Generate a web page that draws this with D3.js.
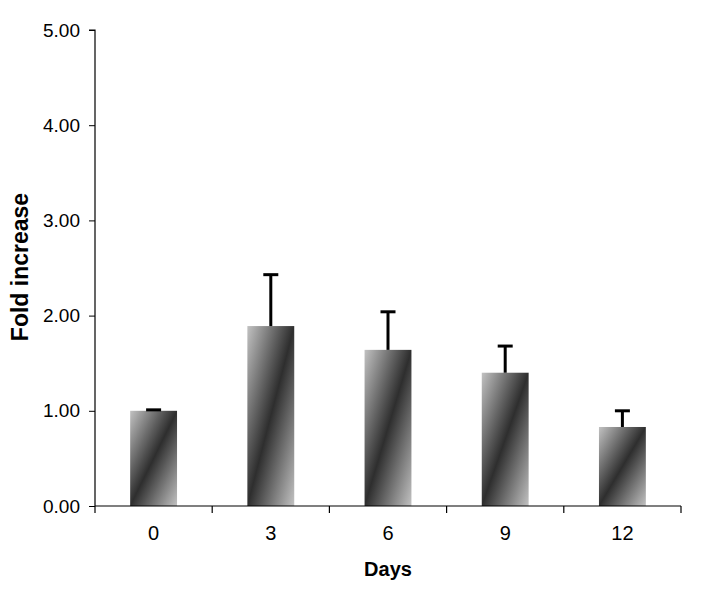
<!DOCTYPE html>
<html><head><meta charset="utf-8">
<script src="https://cdn.jsdelivr.net/npm/d3@7/dist/d3.min.js"></script>
<style>body{margin:0;background:#fff}svg{display:block}</style>
</head><body>
<svg id="c" width="719" height="606"></svg>
<script>
const categories = ["0", "3", "6", "9", "12"];
const values = [1.00, 1.89, 1.64, 1.40, 0.83];
const errors = [0.01, 0.54, 0.40, 0.28, 0.17];
const yTicks = [0, 1, 2, 3, 4, 5];

const svg = d3.select("#c");
const m = {l: 95, r: 38, t: 30, b: 100};
const W = 719, H = 606;
const x = d3.scaleBand().domain(categories).range([m.l, W - m.r]).paddingInner(0.6).paddingOuter(0.3);
const xb = d3.scaleBand().domain(categories).range([m.l, W - m.r]);
const y = d3.scaleLinear().domain([0, 5]).range([H - m.b, m.t]);

const defs = svg.append("defs");
const g = defs.append("linearGradient").attr("id", "grad")
  .attr("x1", 0).attr("y1", 0).attr("x2", 1).attr("y2", 1);
g.append("stop").attr("offset", "0%").attr("stop-color", "#c2c2c2");
g.append("stop").attr("offset", "50%").attr("stop-color", "#2e2e2e");
g.append("stop").attr("offset", "100%").attr("stop-color", "#c2c2c2");

const font = "'Liberation Sans', Arial, sans-serif";

// bars
svg.selectAll("rect.bar").data(values).enter().append("rect")
  .attr("x", (d, i) => x(categories[i]))
  .attr("y", d => y(d))
  .attr("width", x.bandwidth())
  .attr("height", d => y(0) - y(d))
  .attr("fill", "url(#grad)");

// error bars
const eg = svg.append("g").attr("stroke", "#000").attr("stroke-width", 3);
values.forEach((v, i) => {
  const cx = x(categories[i]) + x.bandwidth() / 2;
  eg.append("line").attr("x1", cx).attr("x2", cx).attr("y1", y(v)).attr("y2", y(v + errors[i]));
  eg.append("line").attr("x1", cx - 7.5).attr("x2", cx + 7.5).attr("y1", y(v + errors[i])).attr("y2", y(v + errors[i]));
});

// y axis
const ya = svg.append("g").attr("transform", `translate(${m.l},0)`)
  .call(d3.axisLeft(y).tickValues(yTicks).tickFormat(d3.format(".2f")).tickSize(6).tickPadding(9));
ya.select(".domain").attr("stroke", "#000").attr("stroke-width", 1.2).attr("d", `M-6,${y(5)}H0V${y(0)}`);
ya.selectAll("text").attr("font-family", font).attr("font-size", 19).attr("fill", "#000");

// x axis
const xa = svg.append("g").attr("transform", `translate(0,${y(0)})`)
  .call(d3.axisBottom(xb).tickSize(0).tickPadding(20));
xa.select(".domain").attr("stroke", "#000").attr("stroke-width", 1.2).attr("d", `M${m.l},0H${W - m.r}`);
xa.selectAll("text").attr("font-family", font).attr("font-size", 20).attr("fill", "#000");
const edges = categories.map(c => xb(c)).concat([W - m.r]);
xa.selectAll("line.edge").data(edges).enter().append("line").attr("class", "edge")
  .attr("x1", d => d).attr("x2", d => d).attr("y1", 0).attr("y2", 7)
  .attr("stroke", "#000").attr("stroke-width", 1.2);

// titles
svg.append("text").attr("x", (m.l + W - m.r) / 2).attr("y", 576)
  .attr("text-anchor", "middle").attr("font-family", font).attr("font-weight", "bold")
  .attr("font-size", 20).text("Days");
svg.append("text").attr("transform", `translate(28,267) rotate(-90)`)
  .attr("text-anchor", "middle").attr("font-family", font).attr("font-weight", "bold")
  .attr("font-size", 23).text("Fold increase");
</script>
</body></html>
